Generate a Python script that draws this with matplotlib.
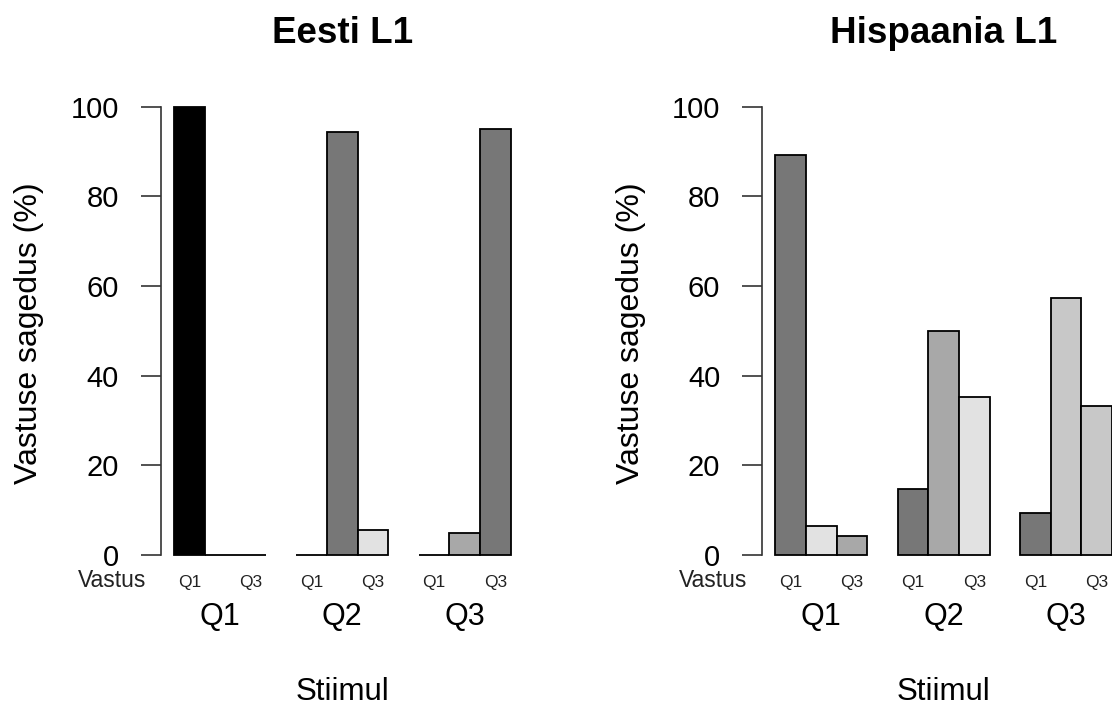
import matplotlib
matplotlib.use("Agg")
import matplotlib.pyplot as plt
import matplotlib.transforms as mtransforms

plt.rcParams['font.family'] = ['Liberation Sans', 'DejaVu Sans']

stimuli = ["Q1", "Q2", "Q3"]
answers = ["Q1", "Q2", "Q3"]
titles = ["Eesti L1", "Hispaania L1"]

# percentages, one row per stimulus (answer Q1, Q2, Q3)
eesti = [[100, 0, 0],
         [0, 94.4, 5.6],
         [0, 5.0, 95.0]]
hispaania = [[89.2, 6.4, 4.3],
             [14.8, 50.0, 35.2],
             [9.3, 57.4, 33.3]]

eesti_cols = [["#000000", "#ffffff", "#ffffff"],
              ["#ffffff", "#777777", "#e2e2e2"],
              ["#ffffff", "#a8a8a8", "#777777"]]
hisp_cols = [["#777777", "#e2e2e2", "#a8a8a8"],
             ["#777777", "#a8a8a8", "#e2e2e2"],
             ["#777777", "#c8c8c8", "#c8c8c8"]]

fig = plt.figure(figsize=(11.12, 7.06), dpi=100)
W, H = 1112, 706


def fy(py):
    # pixel row from the top -> figure fraction
    return 1 - py / H


def panel(x0, data, cols, title):
    # R barplot geometry: bars of width 1, one unit gap between groups
    unit = 30.6
    ax = fig.add_axes([x0 / W, fy(555), 11.88 * unit / W, (555 - 106.6) / H])
    ax.set_xlim(0.56, 12.44)
    ax.set_ylim(0, 100)
    for g in range(3):
        for k in range(3):
            left = 1 + g * 4 + k
            ax.bar(left, data[g][k], width=1, align='edge', color=cols[g][k],
                   edgecolor='black', linewidth=1.3, clip_on=False)
    for s in ['top', 'right', 'bottom']:
        ax.spines[s].set_visible(False)
    ax.spines['left'].set_bounds(0, 100)
    ax.spines['left'].set_linewidth(1.2)
    ax.spines['left'].set_color('#333333')
    ax.set_yticks([0, 20, 40, 60, 80, 100])
    ax.tick_params(axis='y', labelsize=21, length=14.5, width=1.2,
                   color='#333333', pad=15.5)
    ax.set_xticks([])

    tr = mtransforms.blended_transform_factory(ax.transData, fig.transFigure)
    # small answer labels (only first and last fit)
    for g in range(3):
        for k in (0, 2):
            ax.text(1 + g * 4 + k + 0.5, fy(587), answers[k], transform=tr,
                    ha='center', va='baseline', fontsize=12.5, color='#222222')
        ax.text(1 + g * 4 + 1.5, fy(625), stimuli[g], transform=tr,
                ha='center', va='baseline', fontsize=22)
    ax.text(0.09, fy(587), "Vastus", transform=tr, ha='right', va='baseline',
            fontsize=16.5, color='#222222')
    ax.text(6.5, fy(700), "Stiimul", transform=tr, ha='center', va='baseline',
            fontsize=22.5)
    ax.text(6.5, fy(43), title, transform=tr, ha='center', va='baseline',
            fontsize=26.5, fontweight='bold')
    fig.text((x0 - 131) / W, fy(333), "Vastuse sagedus (%)", rotation=90,
             ha='center', va='center', fontsize=23)
    return ax


panel(160.5, eesti, eesti_cols, titles[0])
panel(762.0, hispaania, hisp_cols, titles[1])

fig.savefig("out.png", dpi=100)
